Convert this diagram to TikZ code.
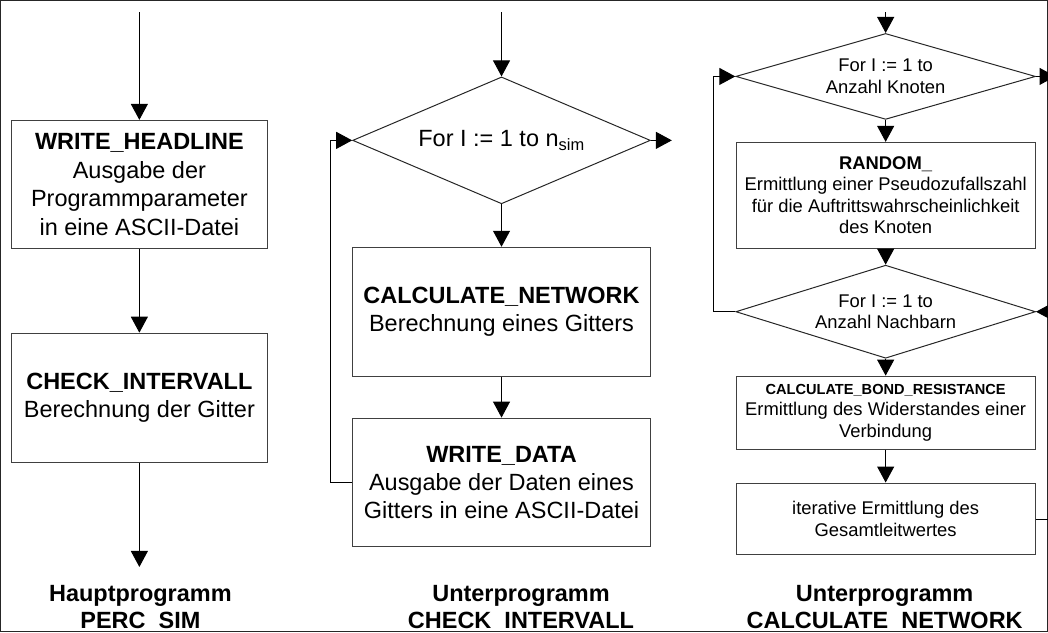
\documentclass[tikz,border=0pt]{standalone}
\usepackage{fontspec}
\setmainfont{Liberation Sans}
\usetikzlibrary{arrows.meta,shapes.geometric}

\begin{document}
\begin{tikzpicture}[x=1pt,y=-1pt,
  line width=1pt,
  every path/.style={draw=black!85},
  flow/.style={-{Triangle[length=16pt,width=17pt]}, black},
  bigbox/.style={draw=black!75, rectangle, inner sep=0pt, align=center,
    font=\fontsize{23.5}{28.5}\selectfont},
  smallbox/.style={draw=black!75, rectangle, inner sep=0pt, align=center,
    minimum width=299pt, font=\fontsize{18.4}{21.5}\selectfont},
  loopdia/.style={draw=black!85, diamond, aspect=2.4, inner sep=0pt, align=center},
  caption/.style={align=center, font=\bfseries\fontsize{23.5}{27}\selectfont}
]
\useasboundingbox (0,0) rectangle (1048,632);

% ---------- main program ----------
\coordinate (hin) at (139,12);
\node[bigbox, minimum width=256pt, minimum height=128pt] (head) at (139,184)
  {\textbf{WRITE\_HEADLINE}\\Ausgabe der\\Programmparameter\\in eine ASCII-Datei};
\node[bigbox, minimum width=256pt, minimum height=129pt] (check) at (139,397.5)
  {\textbf{CHECK\_INTERVALL}\\Berechnung der Gitter};
\coordinate (hout) at (139,567);
\node[caption] (tmain) at (140,608) {Hauptprogramm\\PERC\phantom{\_}SIM};

\draw[flow] (hin) -- (head.north);
\draw[flow] (head.south) -- (check.north);
\draw[flow] (check.south) -- (hout);

% ---------- CHECK_INTERVALL ----------
\coordinate (cin) at (501.5,12);
\node[loopdia, minimum width=298pt, minimum height=127pt,
  font=\fontsize{23.5}{28}\selectfont] (nsim) at (501.5,140)
  {For I := 1 to n\textsubscript{sim}};
\coordinate (cout) at (672,140);
\node[bigbox, minimum width=299pt, minimum height=129pt] (calc) at (501.5,311.5)
  {\textbf{CALCULATE\_NETWORK}\\Berechnung eines Gitters};
\node[bigbox, minimum width=299pt, minimum height=129pt] (wdata) at (501.5,482.5)
  {\textbf{WRITE\_DATA}\\Ausgabe der Daten eines\\Gitters in eine ASCII-Datei};
\node[caption] (tcheck) at (521,608) {Unterprogramm\\CHECK\phantom{\_}INTERVALL};

\draw[flow] (cin) -- (nsim.north);
\draw[flow] (nsim.east) -- (cout);
\draw[flow] (nsim.south) -- (calc.north);
\draw[flow] (calc.south) -- (wdata.north);
\draw[flow] (wdata.west) -- ++(-21,0) |- (nsim.west);

% ---------- CALCULATE_NETWORK ----------
\coordinate (nin) at (886,12);
\node[loopdia, minimum width=300pt, minimum height=86pt,
  font=\fontsize{18.4}{21.5}\selectfont] (knot) at (886,76)
  {For I := 1 to\\Anzahl Knoten};
\coordinate (nout) at (1056,76);
\node[smallbox, minimum height=106pt] (rand) at (886,195)
  {\textbf{RANDOM\_}\\Ermittlung einer Pseudozufallszahl\\für die Auftrittswahrscheinlichkeit\\des Knoten};
\node[loopdia, minimum width=300pt, minimum height=85pt,
  font=\fontsize{18.4}{21.5}\selectfont] (nach) at (886,311.5)
  {For I := 1 to\\Anzahl Nachbarn};
\node[smallbox, minimum height=73pt] (bond) at (886,412.5)
  {{\bfseries\fontsize{14.6}{17}\selectfont CALCULATE\_BOND\_RESISTANCE}\\Ermittlung des Widerstandes einer\\Verbindung};
\node[smallbox, minimum height=72pt] (iter) at (886,519)
  {iterative Ermittlung des\\Gesamtleitwertes};
\node[caption] (tnet) at (885,608) {Unterprogramm\\CALCULATE\phantom{\_}NETWORK};

\draw[flow] (nin) -- (knot.north);
\draw[flow] (knot.east) -- (nout);
\draw[flow] (knot.south) -- (rand.north);
\draw[flow] (rand.south) -- (nach.north);
\draw[flow] (nach.south) -- (bond.north);
\draw[flow] (bond.south) -- (iter.north);
\draw[flow] (nach.west) -- ++(-22,0) |- (knot.west);
\draw[flow] (iter.east) -- ++(21,0) |- (nach.east);
\end{tikzpicture}
\end{document}
